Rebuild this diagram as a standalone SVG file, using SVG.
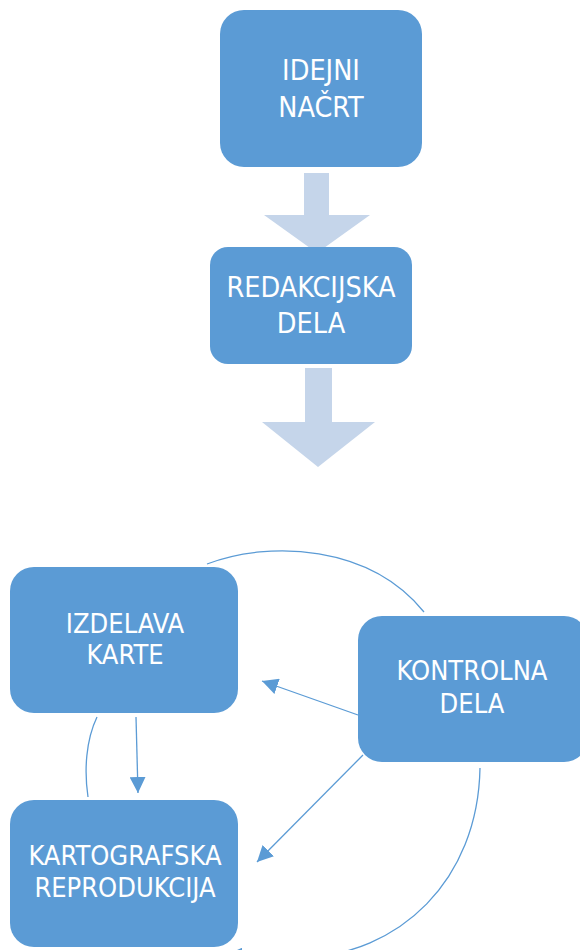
<svg xmlns="http://www.w3.org/2000/svg" width="580" height="950" viewBox="0 0 580 950">
  <style>
    .box { fill: #5B9BD5; }
    .lbl { fill: #FFFFFF; font-family: "DejaVu Sans Condensed", "DejaVu Sans", sans-serif; font-size: 27px; text-anchor: middle; font-stretch: condensed; }
    .big { font-size: 28.5px; }
    .fat { fill: #C5D5EA; }
    .con { fill: none; stroke: #5B9BD5; stroke-width: 1.3; }
  </style>
  <defs>
    <marker id="ah" viewBox="0 0 16 16" refX="16" refY="8" markerWidth="16" markerHeight="16" markerUnits="userSpaceOnUse" orient="auto">
      <path d="M0,0 L16,8 L0,16 z" fill="#5B9BD5"/>
    </marker>
  </defs>

  <g id="connectors">
    <polygon class="fat" points="304,173 329,173 329,215 370,215 317,253 264,215 304,215"/>
    <polygon class="fat" points="305,368 332,368 332,422 375,422 318,467 262,422 305,422"/>
    <path class="con" d="M207,564 C270,540 370,545 424,612"/>
    <path class="con" d="M97,717 C86,740 84,770 88,797"/>
    <path class="con" d="M480,768 C478,880 400,955 300,958 L226,955" marker-end="url(#ah)"/>
    <line class="con" x1="136" y1="717" x2="138" y2="793" marker-end="url(#ah)"/>
    <line class="con" x1="358" y1="715" x2="262" y2="681" marker-end="url(#ah)"/>
    <line class="con" x1="363" y1="755" x2="257" y2="862" marker-end="url(#ah)"/>
  </g>

  <g id="idejni-nacrt">
    <rect class="box" x="220" y="10" width="202" height="157" rx="24"/>
    <text class="lbl big" x="321" y="80">IDEJNI</text>
    <text class="lbl big" x="321" y="117">NAČRT</text>
  </g>

  <g id="redakcijska-dela">
    <rect class="box" x="210" y="247" width="202" height="117" rx="18"/>
    <text class="lbl big" x="311" y="297">REDAKCIJSKA</text>
    <text class="lbl big" x="311" y="333">DELA</text>
  </g>

  <g id="izdelava-karte">
    <rect class="box" x="10" y="567" width="228" height="146" rx="24"/>
    <text class="lbl" x="125" y="633">IZDELAVA</text>
    <text class="lbl" x="125" y="664">KARTE</text>
  </g>

  <g id="kartografska-reprodukcija">
    <rect class="box" x="10" y="800" width="228" height="147" rx="24"/>
    <text class="lbl" x="125" y="865">KARTOGRAFSKA</text>
    <text class="lbl" x="125" y="897">REPRODUKCIJA</text>
  </g>

  <g id="kontrolna-dela">
    <rect class="box" x="358" y="616" width="230" height="146" rx="24"/>
    <text class="lbl" x="472" y="680">KONTROLNA</text>
    <text class="lbl" x="472" y="713">DELA</text>
  </g>
</svg>
